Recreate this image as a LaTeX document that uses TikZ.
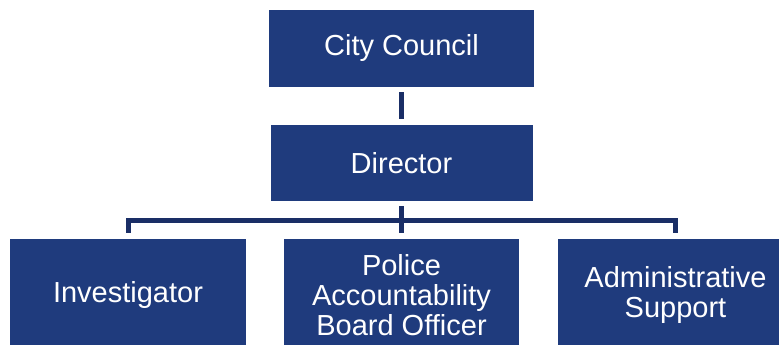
\documentclass[tikz,border=0pt]{standalone}
\usepackage{fontspec}
\setmainfont{Liberation Sans}
\usepackage{tikz}
\usetikzlibrary{positioning}
\definecolor{boxblue}{RGB}{31,59,125}
\definecolor{lineblue}{RGB}{26,46,102}
\tikzset{
    box/.style={rectangle,fill=boxblue,text=white,align=center,inner sep=2pt,
        font=\fontsize{29pt}{30pt}\selectfont},
    conn/.style={draw=lineblue,line width=5pt},
}

\begin{document}
\begin{tikzpicture}[x=1pt,y=-1pt]
\useasboundingbox (0,0) rectangle (779,345);
\clip (0,0) rectangle (779,345);
% top of the chart
\node[box,minimum width=265pt,minimum height=77pt] (cc) at (401.5,48.5) {City Council};
\node[box,minimum width=262pt,minimum height=76pt] (dir) at (401.5,163) {Director};
% staff row
\node[box,minimum width=236pt,minimum height=112pt] (inv) at (128,295) {Investigator};
\node[box,minimum width=235pt,minimum height=112pt] (pab) at (401.5,295) {Police\\Accountability\\Board Officer};
\node[box,minimum width=235pt,minimum height=112pt] (adm) at (675.5,295) {Administrative\\Support};
\coordinate (split) at (401.5,220);
\draw[conn,shorten <=5pt,shorten >=6pt] (cc.south) -- (dir.north);
\draw[conn,shorten <=5pt,shorten >=6pt] (dir.south) -- (pab.north);
\draw[conn,shorten <=6pt,shorten >=6pt] (inv.north) |- (split) -| (adm.north);
\end{tikzpicture}
\end{document}
